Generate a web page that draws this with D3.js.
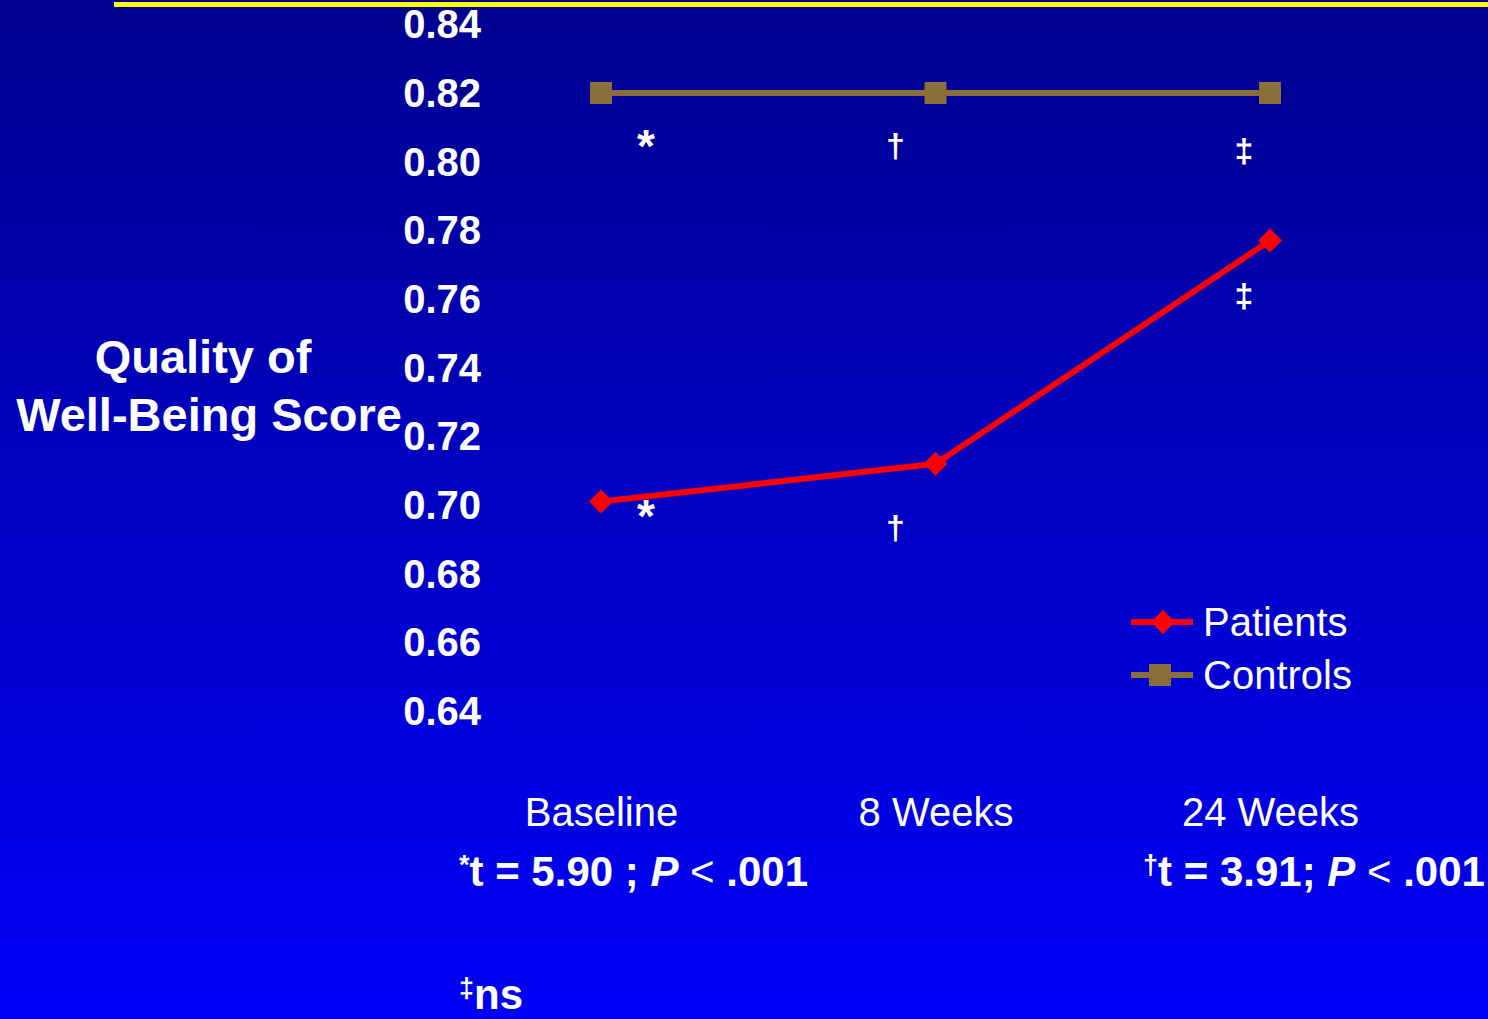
<!DOCTYPE html>
<html>
<head>
<meta charset="utf-8">
<script src="https://cdn.jsdelivr.net/npm/d3@7"></script>
<style>
  html, body { margin: 0; padding: 0; overflow: hidden; }
  svg { display: block; font-family: "Liberation Sans", Arial, sans-serif; }
</style>
</head>
<body>
<script>
// ---- data ----
const categories = ["Baseline", "8 Weeks", "24 Weeks"];
const patients = [0.701, 0.712, 0.777];
const controls = [0.820, 0.820, 0.820];
const yTicks = [0.64, 0.66, 0.68, 0.70, 0.72, 0.74, 0.76, 0.78, 0.80, 0.82, 0.84];
const seriesNames = ["Patients", "Controls"];
// significance markers: symbol per category, and value level where drawn
const markSymbols = ["*", "\u2020", "\u2021"];
const markCtrlLevel = [0.8063, 0.8054, 0.8040];
const markPatLevel = [0.6985, 0.6942, 0.7617];
const markDx = [45, -40, -26];

const W = 1488, H = 1019;
const svg = d3.select("body").append("svg").attr("width", W).attr("height", H);

const defs = svg.append("defs");
const grad = defs.append("linearGradient").attr("id", "bg").attr("x1", 0).attr("y1", 0).attr("x2", 0).attr("y2", 1);
grad.append("stop").attr("offset", "0%").attr("stop-color", "#00008e");
grad.append("stop").attr("offset", "100%").attr("stop-color", "#0000f8");
svg.append("rect").attr("width", W).attr("height", H).attr("fill", "url(#bg)");

// yellow rule at top
svg.append("rect").attr("x", 114).attr("y", 2).attr("width", W - 114).attr("height", 5).attr("fill", "#ffff00");

const y = d3.scaleLinear().domain([0.64, 0.84]).range([711, 24.3]);
const x = d3.scalePoint().domain(categories).range([601, 1270]).padding(0);

// y axis
const yAxis = svg.append("g").attr("transform", "translate(481,0)")
  .call(d3.axisLeft(y).tickValues(yTicks).tickSize(0).tickPadding(0).tickFormat(d3.format(".2f")));
yAxis.select(".domain").remove();
yAxis.selectAll("text").attr("fill", "#fff").attr("font-size", 40).attr("font-weight", "bold")
  .attr("font-family", "Liberation Sans, Arial, sans-serif").attr("dy", "0.34em");

// y title
const yt = svg.append("text").attr("fill", "#fff").attr("font-size", 47).attr("font-weight", "bold").attr("text-anchor", "middle");
yt.append("tspan").attr("x", 203).attr("y", 373).text("Quality of");
yt.append("tspan").attr("x", 209).attr("y", 431).text("Well-Being Score");

// x category labels
svg.append("g").attr("transform", "translate(0,812)")
  .call(d3.axisBottom(x).tickSize(0).tickPadding(0))
  .call(g => g.select(".domain").remove())
  .selectAll("text").attr("fill", "#fff").attr("font-size", 40).attr("font-weight", "normal")
  .attr("font-family", "Liberation Sans, Arial, sans-serif").attr("dy", "0.36em");

const line = d3.line().x((d, i) => x(categories[i])).y(d => y(d));

// controls
svg.append("path").datum(controls).attr("d", line).attr("fill", "none").attr("stroke", "#8c6e3a").attr("stroke-width", 6);
svg.selectAll(".cm").data(controls).enter().append("rect")
  .attr("x", (d, i) => x(categories[i]) - 11).attr("y", d => y(d) - 11)
  .attr("width", 22).attr("height", 22).attr("fill", "#8c6e3a");

// patients
svg.append("path").datum(patients).attr("d", line).attr("fill", "none").attr("stroke", "#ff0000").attr("stroke-width", 6).attr("stroke-linejoin", "round");
const diamond = s => `M0,${-s}L${s},0L0,${s}L${-s},0Z`;
svg.selectAll(".pm").data(patients).enter().append("path")
  .attr("d", diamond(12)).attr("transform", (d, i) => `translate(${x(categories[i])},${y(d)})`).attr("fill", "#ff0000");

// significance markers
function drawMarks(levels) {
  svg.selectAll(null).data(levels).enter().append("text")
    .attr("x", (d, i) => x(categories[i]) + markDx[i]).attr("y", d => y(d))
    .attr("text-anchor", "middle").attr("dy", (d, i) => i === 0 ? "0.47em" : "0.4em")
    .attr("fill", "#fff").attr("font-size", (d, i) => i === 0 ? 46 : 34).attr("font-weight", "bold")
    .text((d, i) => markSymbols[i]);
}
drawMarks(markCtrlLevel);
drawMarks(markPatLevel);

// legend
const lg = svg.append("g").attr("transform", "translate(1131,622)");
[["#ff0000", "diamond"], ["#8c6e3a", "square"]].forEach(([c, m], i) => {
  const g = lg.append("g").attr("transform", `translate(0,${i * 53})`);
  g.append("line").attr("x1", 0).attr("x2", 62).attr("stroke", c).attr("stroke-width", 6);
  if (m === "diamond") g.append("path").attr("d", diamond(12)).attr("transform", "translate(32,0)").attr("fill", c);
  else g.append("rect").attr("x", 18).attr("y", -11).attr("width", 22).attr("height", 22).attr("fill", c);
  g.append("text").attr("x", 72).attr("dy", "0.36em").attr("fill", "#fff").attr("font-size", 40).text(seriesNames[i]);
});

// statistics footnotes
function stat(xp, yp, sup, tval, sep) {
  const t = svg.append("text").attr("x", xp).attr("y", yp).attr("fill", "#fff").attr("font-size", 42).attr("font-weight", "bold");
  t.append("tspan").attr("font-size", 27).attr("dy", -12).text(sup);
  t.append("tspan").attr("dy", 12).text("t = " + tval + sep + " ");
  t.append("tspan").attr("font-style", "italic").text("P");
  t.append("tspan").attr("font-weight", "normal").text(" < ");
  t.append("tspan").text(".001");
}
stat(459, 886, "*", "5.90", " ;");
stat(1143, 886, "\u2020", "3.91", ";");
const ns = svg.append("text").attr("x", 459).attr("y", 1009).attr("fill", "#fff").attr("font-size", 42).attr("font-weight", "bold");
ns.append("tspan").attr("font-size", 27).attr("dy", -12).text("\u2021");
ns.append("tspan").attr("dy", 12).text("ns");
</script>
</body>
</html>
